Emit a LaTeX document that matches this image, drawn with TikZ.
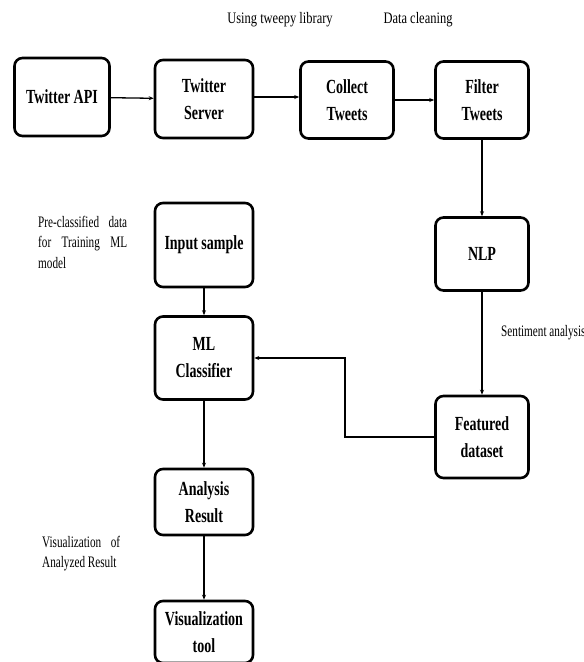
\documentclass[tikz,border=0pt]{standalone}
\usepackage{fontspec}
\setmainfont{Liberation Serif}
\newfontfamily\boxfont[FakeStretch=0.7]{Liberation Serif Bold}
\newfontfamily\notefont[FakeStretch=0.78]{Liberation Serif}
\newfontfamily\sidefont[FakeStretch=0.7]{Liberation Serif}
\usetikzlibrary{arrows.meta}
\begin{document}
\begin{tikzpicture}[x=1pt,y=-1pt,
  blk/.style={draw, line width=2.6pt, rounded corners=8pt, align=center,
    font=\boxfont\fontsize{20}{27}\selectfont, inner sep=0pt},
  arr/.style={draw, line width=1.3pt, -{Stealth[length=5pt,width=4pt]}},
  note/.style={font=\notefont\fontsize{16}{20.5}\selectfont, inner sep=0pt},
  side/.style={font=\sidefont\fontsize{16}{20.5}\selectfont, inner sep=0pt, anchor=north west, align=left}]
\useasboundingbox (0,0) rectangle (584,662);
\node[blk, minimum width=95pt, minimum height=78pt] (api) at (62,97) {Twitter API};
\node[blk, minimum width=98pt, minimum height=78pt] (server) at (204,99) {Twitter\\Server};
\node[blk, minimum width=93pt, minimum height=77pt] (collect) at (347,100) {Collect\\Tweets};
\node[blk, minimum width=93pt, minimum height=77pt] (filter) at (482,100) {Filter\\Tweets};
\node[blk, minimum width=98pt, minimum height=84pt] (input) at (204,245) {Input sample};
\node[blk, minimum width=93pt, minimum height=73pt] (nlp) at (482,254) {NLP};
\node[blk, minimum width=98pt, minimum height=83pt] (ml) at (204,358) {ML\\Classifier};
\node[blk, minimum width=93pt, minimum height=82pt] (feat) at (482,437) {Featured\\dataset};
\node[blk, minimum width=98pt, minimum height=66pt] (result) at (204,502) {Analysis\\Result};
\node[blk, minimum width=98pt, minimum height=62pt] (vis) at (204,632) {Visualization\\tool};

\node[note] (n1) at (280,20) {Using tweepy library};
\node[note] (n2) at (418,20) {Data cleaning};
\node[side] (n3) at (38,216) {\makebox[89pt][s]{Pre-classified data}\\\makebox[89pt][s]{for Training ML}\\model};
\node[side, anchor=west] (n4) at (501,333) {Sentiment analysis};
\node[side] (n5) at (42,536) {\makebox[78pt][s]{Visualization of}\\Analyzed Result};

\draw[arr] (api) -- (server);
\draw[arr] (server.east |- api.east) -- (collect.west |- api.east);
\draw[arr] (collect) -- (filter);
\draw[arr] (filter) -- (nlp);
\draw[arr] (nlp) -- (feat);
\draw[arr] (input) -- (ml);
\draw[arr] (ml) -- (result);
\draw[arr] (result) -- (vis);
\coordinate (bend) at (345,437);
\draw[arr] (feat.west) -- (bend) |- (ml.east);
\end{tikzpicture}
\end{document}
